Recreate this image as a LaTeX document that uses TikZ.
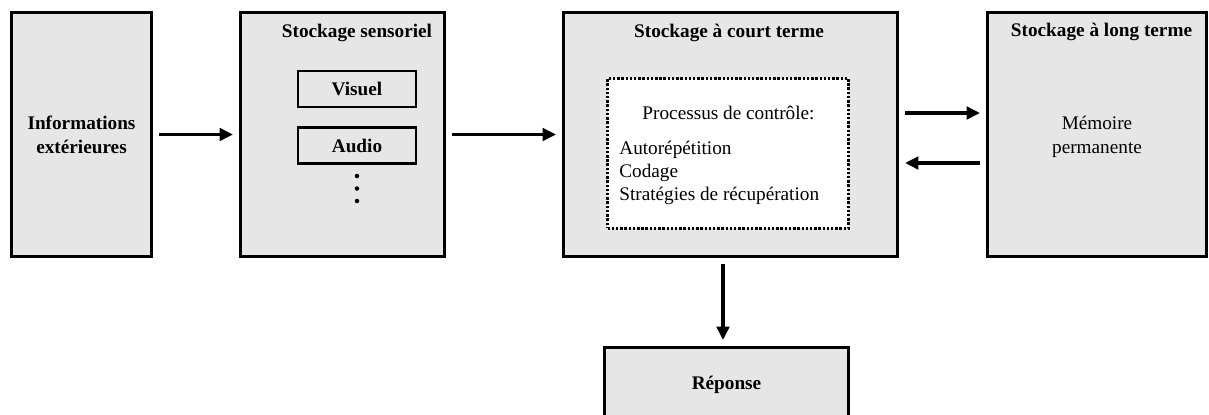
\documentclass[tikz,border=0pt,11pt]{standalone}
\usepackage{fontspec}
\setmainfont{Liberation Serif}
\usetikzlibrary{arrows.meta}
\definecolor{boxgray}{RGB}{231,230,230}

\begin{document}
\begin{tikzpicture}[x=0.02cm, y=-0.02cm]
        \tikzstyle{bigbox}=[draw, fill=boxgray, line width=1.7pt, inner sep=0cm, minimum height=4.88cm]
        \tikzstyle{smallbox}=[draw, line width=1.3pt, inner sep=0cm, minimum width=2.36cm, minimum height=0.72cm, font=\bfseries]
        \tikzstyle{title}=[font=\bfseries, inner sep=0cm, anchor=base]
        \tikzstyle{flow}=[line width=2pt, -{Triangle[length=0.27cm, width=0.25cm]}, shorten <=0.12cm, shorten >=0.12cm]

        % the picture is cut off at the bottom
        \clip (0, 0) rectangle (1209, 414);

        % draw the outer boxes
        \node[bigbox, minimum width=2.8cm, align=center, font=\bfseries] at (81.5, 134.5) (info) {Informations\\extérieures};
        \node[bigbox, minimum width=4.08cm] at (342.5, 134.5) (sens) {};
        \node[bigbox, minimum width=6.68cm] at (730.5, 134.5) (court) {};
        \node[bigbox, minimum width=4.38cm] at (1097, 134.5) (long) {};
        \node[bigbox, minimum width=4.88cm, minimum height=1.48cm, font=\bfseries] at (726.5, 384.5) (rep) {Réponse};

        % titles
        \node[title] at (357, 37) (senstitle) {Stockage sensoriel};
        \node[title] at (729, 37) (courttitle) {Stockage à court terme};
        \node[title] at (1101.5, 36) (longtitle) {Stockage à long terme};

        % sensory registers
        \node[smallbox] at (357, 89) (visuel) {Visuel};
        \node[smallbox] at (357, 145.5) (audio) {Audio};
        \foreach \y in {176, 188.5, 201}
        {
          \fill (357, \y) circle (0.045cm);
        };

        % control processes
        \node[draw, fill=white, densely dotted, line width=1.4pt, minimum width=4.82cm, minimum height=3cm] at (728, 153.5) (proc) {};
        \node[anchor=base, inner sep=0cm] at (728.5, 119) (proctitle) {Processus de contrôle:};
        \foreach \txt/\y [count=\i] in {Autorépétition/154, Codage/177, Stratégies de récupération/200}
        {
          \node[anchor=base west, inner sep=0cm] at (619, \y) (item\i) {\txt};
        };

        % long term memory text
        \node[align=center, inner sep=0cm] at (1097, 136.5) (perm) {Mémoire\\permanente};

        % draw the arrows between the boxes
        \draw[flow] (info) -- (sens);
        \draw[flow] (sens) -- (court);
        \draw[flow] ([yshift=0.43cm]court.east) -- ([yshift=0.43cm]long.west);
        \draw[flow] ([yshift=-0.57cm]long.west) -- ([yshift=-0.57cm]court.east);
        \draw[flow] ([xshift=-0.07cm]rep.north |- court.south) -- ([xshift=-0.07cm]rep.north);
    \end{tikzpicture}
\end{document}
